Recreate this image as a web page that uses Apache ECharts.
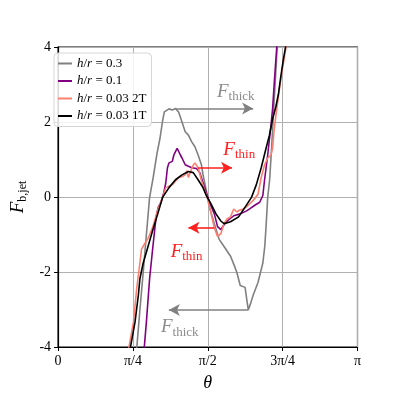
<!DOCTYPE html>
<html>
<head>
<meta charset="utf-8">
<script src="https://cdn.jsdelivr.net/npm/echarts@6/dist/echarts.min.js"></script>
<style>
  html, body { margin: 0; padding: 0; background: #fff; }
  #main { width: 397px; height: 397px; }
</style>
</head>
<body>
<div id="main"></div>
<script>
// x is theta / pi, y is F_b,jet
var xTicks = [0, 0.25, 0.5, 0.75, 1];
var xTickLabels = ['0', 'π/4', 'π/2', '3π/4', 'π'];
var yTicks = [-4, -2, 0, 2, 4];

var names = ['h/r = 0.3', 'h/r = 0.1', 'h/r = 0.03 2T', 'h/r = 0.03 1T'];

var thickData = [
    [0.2626, -4.05], [0.2733, -3.01], [0.2843, -2.01], [0.2950, -1.00], [0.3057, -0.01],
    [0.3177, 0.52], [0.3306, 1.17], [0.3403, 1.56], [0.3491, 2.03], [0.3549, 2.27],
    [0.3598, 2.31], [0.3705, 2.35], [0.3815, 2.32], [0.3922, 2.36], [0.4029, 2.26],
    [0.4139, 2.00], [0.4246, 1.74], [0.4353, 1.65], [0.4464, 1.47], [0.4571, 1.34],
    [0.4677, 1.12], [0.4788, 0.86], [0.4840, 0.60], [0.4950, 0.17], [0.5057, -0.27],
    [0.5219, -0.71], [0.5381, -1.13], [0.5543, -1.32], [0.5760, -1.58], [0.5867, -1.79],
    [0.5974, -2.02], [0.6084, -2.36], [0.6246, -2.41], [0.6305, -2.75], [0.6353, -3.01],
    [0.6434, -2.83], [0.6515, -2.62], [0.6677, -2.28], [0.6839, -1.76], [0.6904, -1.31],
    [0.6946, -0.79], [0.7001, -0.01], [0.7066, 0.46], [0.7131, 1.30], [0.7196, 2.29],
    [0.7261, 3.18], [0.7310, 3.91], [0.7326, 4.07]
];

var midData = [
    [0.2875, -4.05], [0.2950, -3.33], [0.3057, -2.18], [0.3167, -1.32], [0.3274, -0.53],
    [0.3348, -0.27], [0.3436, -0.14], [0.3533, 0.12], [0.3598, 0.38], [0.3653, 0.78],
    [0.3705, 0.91], [0.3815, 0.95], [0.3867, 1.12], [0.3922, 1.21], [0.3977, 1.30],
    [0.4029, 1.27], [0.4084, 1.12], [0.4139, 1.04], [0.4246, 0.86], [0.4353, 0.82],
    [0.4464, 0.78], [0.4626, 0.76], [0.4733, 0.65], [0.4895, 0.25], [0.5057, -0.14],
    [0.5219, -0.45], [0.5326, -0.79], [0.5436, -0.87], [0.5543, -0.74], [0.5650, -0.64],
    [0.5867, -0.50], [0.6084, -0.45], [0.6298, -0.37], [0.6408, -0.31], [0.6571, -0.22],
    [0.6733, -0.14], [0.6839, 0.04], [0.6894, 0.44], [0.7001, 1.12], [0.7109, 1.90],
    [0.7164, 2.35], [0.7228, 3.13], [0.7303, 3.99], [0.7313, 4.12]
];

var thin2TData = [
    [0.2357, -4.05], [0.2519, -3.33], [0.2626, -2.44], [0.2733, -1.76], [0.2788, -1.39],
    [0.2895, -1.24], [0.3005, -1.11], [0.3167, -0.79], [0.3329, -0.35], [0.3491, -0.01],
    [0.3598, 0.25], [0.3815, 0.33], [0.4029, 0.52], [0.4139, 0.54], [0.4246, 0.59],
    [0.4301, 0.70], [0.4353, 0.52], [0.4408, 0.65], [0.4515, 0.85], [0.4570, 0.91],
    [0.4626, 0.88], [0.4677, 0.78], [0.4788, 0.44], [0.4895, 0.18], [0.4982, -0.01],
    [0.5112, -0.45], [0.5219, -0.82], [0.5326, -1.05], [0.5436, -0.98], [0.5543, -0.71],
    [0.5650, -0.58], [0.5760, -0.53], [0.5867, -0.32], [0.5974, -0.40], [0.6061, -0.35],
    [0.6191, -0.32], [0.6353, -0.22], [0.6515, -0.09], [0.6677, 0.07], [0.6784, 0.52],
    [0.6894, 0.85], [0.7001, 1.04], [0.7109, 1.12], [0.7164, 1.30], [0.7219, 1.82],
    [0.7303, 2.35], [0.7391, 2.87], [0.7488, 3.39], [0.7585, 3.86], [0.7634, 4.10]
];

var thin1TData = [
    [0.2408, -4.05], [0.2571, -3.33], [0.2681, -2.62], [0.2733, -2.18], [0.2843, -1.76],
    [0.3005, -1.32], [0.3167, -0.87], [0.3329, -0.45], [0.3491, -0.01], [0.3705, 0.25],
    [0.3922, 0.46], [0.4139, 0.59], [0.4353, 0.68], [0.4515, 0.65], [0.4677, 0.46],
    [0.4840, 0.25], [0.4950, 0.04], [0.5112, -0.19], [0.5274, -0.45], [0.5436, -0.64],
    [0.5543, -0.71], [0.5760, -0.66], [0.6029, -0.53], [0.6246, -0.27], [0.6460, -0.01],
    [0.6622, 0.33], [0.6784, 0.78], [0.6946, 1.30], [0.7057, 1.64], [0.7164, 2.08],
    [0.7271, 2.40], [0.7358, 2.74], [0.7433, 3.18], [0.7520, 3.65], [0.7595, 3.99],
    [0.7611, 4.10]
];

// arrows: [x from, x to, y]
var thickArrows = [[0.392, 0.6515, 2.36], [0.6353, 0.370, -3.01]];
var thinArrows = [[0.4677, 0.5811, 0.78], [0.5219, 0.4353, -0.82]];
// annotation text anchors (left, middle)
var thickLabels = [[0.5306, 2.84], [0.3436, -3.43]];
var thinLabels = [[0.552, 1.30], [0.376, -1.42]];

var serif = 'Liberation Serif';
var colors = ['#808080', '#800080', '#fa8072', '#000000'];

var myChart = echarts.init(document.getElementById('main'));

function arrowLines(list) {
    var out = [];
    for (var i = 0; i < list.length; i++) {
        out.push([{coord: [list[i][0], list[i][2]]}, {coord: [list[i][1], list[i][2]]}]);
    }
    return out;
}

function lineSeries(name, data, color, z) {
    return {
        name: name,
        type: 'line',
        data: data,
        showSymbol: false,
        smooth: false,
        z: z,
        lineStyle: {color: color, width: 1.6},
        itemStyle: {color: color},
        clip: true
    };
}

var series = [
    lineSeries(names[0], thickData, colors[0], 2),
    lineSeries(names[1], midData, colors[1], 3),
    lineSeries(names[2], thin2TData, colors[2], 4),
    lineSeries(names[3], thin1TData, colors[3], 5)
];

series[0].markLine = {
    silent: true,
    symbol: ['none', 'arrow'],
    symbolSize: [9, 11],
    label: {show: false},
    lineStyle: {color: '#808080', width: 1.6, type: 'solid'},
    data: arrowLines(thickArrows)
};
series.push({
    type: 'line',
    data: [],
    markLine: {
        silent: true,
        symbol: ['none', 'arrow'],
        symbolSize: [9, 11],
        label: {show: false},
        lineStyle: {color: '#ff2020', width: 1.6, type: 'solid'},
        data: arrowLines(thinArrows)
    }
});

var option = {
    animation: false,
    backgroundColor: '#fff',
    textStyle: {fontFamily: serif},
    grid: {
        left: 49, top: 47, width: 308.5, height: 306,
        show: true, borderColor: '#000', borderWidth: 1.2, backgroundColor: 'transparent'
    },
    legend: {
        orient: 'vertical',
        left: 54, top: 53,
        padding: [4, 5, 4, 4],
        itemWidth: 14, itemHeight: 2,
        itemGap: 4.5,
        icon: 'rect',
        borderColor: '#d6d6d6', borderWidth: 1, borderRadius: 4,
        backgroundColor: 'rgba(255,255,255,0.85)',
        data: names,
        formatter: function (name) {
            return '{i|h}/{i|r} = ' + name.split('= ')[1];
        },
        textStyle: {
            fontFamily: serif, fontSize: 13, color: '#000', lineHeight: 13,
            rich: {i: {fontFamily: serif, fontSize: 13, fontStyle: 'italic', color: '#000'}}
        }
    },
    xAxis: {
        type: 'value',
        min: 0, max: 1, interval: 0.25,
        axisLine: {show: true, onZero: false, lineStyle: {color: '#000', width: 1.2}},
        axisTick: {show: true, length: 4, lineStyle: {color: '#000'}},
        splitLine: {show: true, lineStyle: {color: '#b0b0b0', width: 1}},
        axisLabel: {
            fontFamily: serif, fontSize: 14, color: '#000', margin: 7,
            formatter: function (v) {
                return xTickLabels[Math.round(v * 4)];
            }
        },
        name: 'θ',
        nameLocation: 'middle',
        nameGap: 27,
        nameTextStyle: {fontFamily: serif, fontSize: 18, fontStyle: 'italic', color: '#000'}
    },
    yAxis: {
        type: 'value',
        min: yTicks[0], max: yTicks[yTicks.length - 1], interval: 2,
        axisLine: {show: true, onZero: false, lineStyle: {color: '#000', width: 1.2}},
        axisTick: {show: true, length: 4, lineStyle: {color: '#000'}},
        splitLine: {show: true, lineStyle: {color: '#b0b0b0', width: 1}},
        axisLabel: {
            fontFamily: serif, fontSize: 14, color: '#000', margin: 7,
            formatter: function (v) { return String(v); }
        },
        name: '{f|F}{s|b,jet}',
        nameLocation: 'middle',
        nameRotate: 90,
        nameGap: 31,
        nameTextStyle: {
            rich: {
                f: {fontFamily: serif, fontSize: 19, fontStyle: 'italic', color: '#000', lineHeight: 22, verticalAlign: 'bottom'},
                s: {fontFamily: serif, fontSize: 12, color: '#000', lineHeight: 9, height: 9, verticalAlign: 'bottom'}
            }
        }
    },
    series: series
};

myChart.setOption(option);

// annotation texts placed from data coordinates
function annText(pos, sub, color) {
    var p = myChart.convertToPixel({gridIndex: 0}, pos);
    return {
        type: 'text',
        x: p[0], y: p[1],
        z: 20,
        silent: true,
        style: {
            text: '{f|F}{s|' + sub + '}',
            align: 'left',
            verticalAlign: 'middle',
            rich: {
                f: {fontFamily: serif, fontSize: 19, fontStyle: 'italic', fill: color, lineHeight: 22, verticalAlign: 'bottom'},
                s: {fontFamily: serif, fontSize: 13, fill: color, lineHeight: 9, height: 9, verticalAlign: 'bottom'}
            }
        }
    };
}

var graphics = [];
for (var k = 0; k < thickLabels.length; k++) {
    graphics.push(annText(thickLabels[k], 'thick', '#8c8c8c'));
}
for (var m = 0; m < thinLabels.length; m++) {
    graphics.push(annText(thinLabels[m], 'thin', '#ff2020'));
}
myChart.setOption({graphic: graphics});
</script>
</body>
</html>
